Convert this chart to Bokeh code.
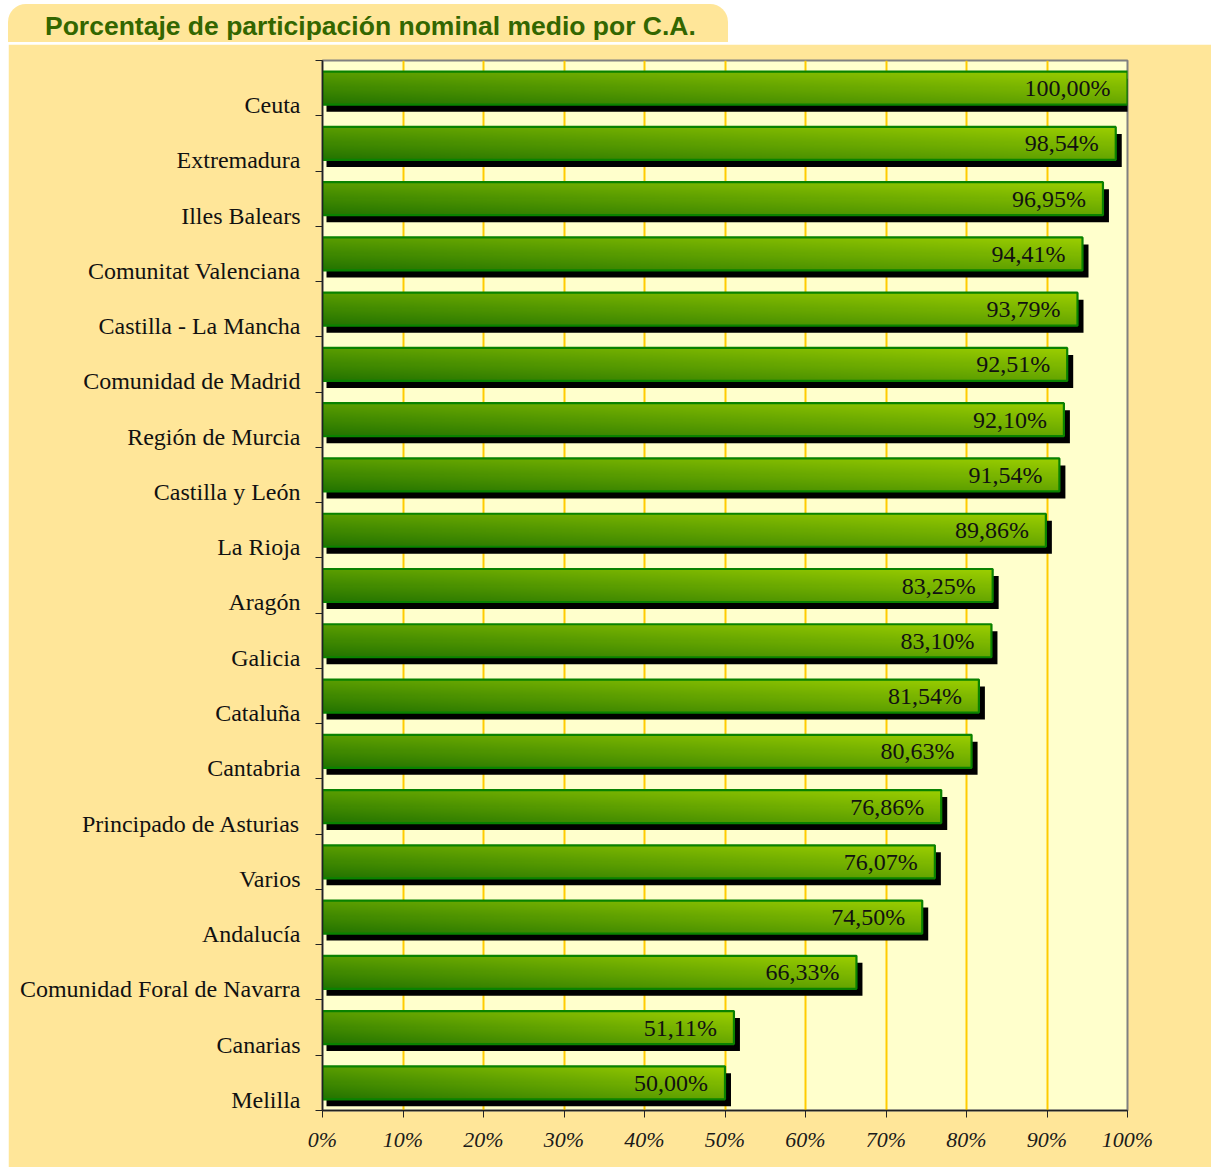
import numpy as np
from bokeh.plotting import figure
from bokeh.models import Div, FixedTicker, PrintfTickFormatter, Range1d, ColumnDataSource
from bokeh.layouts import column
from bokeh.core.properties import value
from bokeh.embed import file_html
from bokeh.resources import INLINE

# ---------------- data ----------------
title_text = "Porcentaje de participación nominal medio por C.A."
regions = ["Ceuta", "Extremadura", "Illes Balears", "Comunitat Valenciana",
           "Castilla - La Mancha", "Comunidad de Madrid", "Región de Murcia",
           "Castilla y León", "La Rioja", "Aragón", "Galicia", "Cataluña",
           "Cantabria", "Principado de Asturias", "Varios", "Andalucía",
           "Comunidad Foral de Navarra", "Canarias", "Melilla"]
values = [100.00, 98.54, 96.95, 94.41, 93.79, 92.51, 92.10, 91.54, 89.86,
          83.25, 83.10, 81.54, 80.63, 76.86, 76.07, 74.50, 66.33, 51.11, 50.00]
x_ticks = [0, 10, 20, 30, 40, 50, 60, 70, 80, 90, 100]

# ---------------- geometry / style ----------------
n = len(regions)
FRAME_W, FRAME_H = 805, 1050
px_x = 100.0 / FRAME_W          # data units per pixel (x)
px_y = n / FRAME_H              # data units per pixel (y)
bar_h = 33 * px_y
yc = [n - 1 - i + 0.5 for i in range(n)]
bottoms = [c - bar_h / 2 for c in yc]
tops = [c + bar_h / 2 for c in yc]
label_pos = [round(c - 17 * px_y, 4) for c in yc]   # category names sit low in the band

PANEL = "#FFE699"
PLOT_BG = "#FFFFCC"

# gradient image for bars
rows, cols = 32, 200
xf = np.linspace(0, 1, cols)[None, :]
yf = np.linspace(0, 1, rows)[:, None]      # row 0 = bottom
t = 0.55 * xf + 0.45 * yf
dark = np.array([36, 116, 0])
light = np.array([156, 207, 0])
img = np.empty((rows, cols), dtype=np.uint32)
view = img.view(dtype=np.uint8).reshape((rows, cols, 4))
for k in range(3):
    view[..., k] = (dark[k] + t * (light[k] - dark[k])).astype(np.uint8)
view[..., 3] = 255

p = figure(width=1203, height=1123, x_range=Range1d(0, 100), y_range=Range1d(0, n),
           output_backend="svg", toolbar_location=None,
           min_border_left=314, min_border_right=84, min_border_top=16, min_border_bottom=57,
           margin=(0, 0, 0, 8))
p.background_fill_color = PLOT_BG
p.border_fill_color = PANEL
p.outline_line_color = "#808080"
p.outline_line_width = 2

# grid
p.xgrid.ticker = FixedTicker(ticks=x_ticks[1:-1])
p.xgrid.grid_line_color = "#FFCC00"
p.xgrid.grid_line_width = 2
p.ygrid.grid_line_color = None

# x axis
p.xaxis.ticker = FixedTicker(ticks=x_ticks)
p.xaxis.formatter = PrintfTickFormatter(format="%d%%")
p.xaxis.major_label_text_font = "Liberation Serif"
p.xaxis.major_label_text_font_style = "italic"
p.xaxis.major_label_text_font_size = "22px"
p.xaxis.major_label_text_color = "#1a1a1a"
p.xaxis.major_label_standoff = 9
p.xaxis.axis_line_color = "#222222"
p.xaxis.axis_line_width = 1.5
p.xaxis.major_tick_line_color = "#222222"
p.xaxis.major_tick_out = 7
p.xaxis.major_tick_in = 0
p.xaxis.minor_tick_line_color = None

# y axis: labels (no tick marks) low in each band, tick marks at band boundaries
p.yaxis.ticker = FixedTicker(ticks=label_pos, minor_ticks=list(range(0, n + 1)))
p.yaxis.major_label_overrides = {label_pos[i]: regions[i] for i in range(n)}
p.yaxis.major_label_orientation = "horizontal"
p.yaxis.major_label_text_font = "Liberation Serif"
p.yaxis.major_label_text_font_size = "24px"
p.yaxis.major_label_text_color = "#111111"
p.yaxis.major_label_standoff = 15
p.yaxis.axis_line_color = "#222222"
p.yaxis.axis_line_width = 1.5
p.yaxis.major_tick_line_color = None
p.yaxis.major_tick_out = 7
p.yaxis.major_tick_in = 0
p.yaxis.minor_tick_line_color = "#222222"
p.yaxis.minor_tick_out = 7
p.yaxis.minor_tick_in = 0

src = ColumnDataSource(dict(
    region=regions, val=values, yc=yc, bottom=bottoms, top=tops,
    sh_left=[4 * px_x] * n,
    sh_right=[v + 6 * px_x for v in values],
    sh_bottom=[b - 7 * px_y for b in bottoms],
    sh_top=[tp - 7 * px_y for tp in tops],
    lab=[f"{v:.2f}".replace(".", ",") + "%" for v in values],
    zero=[0] * n,
    dh=[bar_h] * n,
    img=[img] * n,
))

# shadows
p.quad(left="sh_left", right="sh_right", bottom="sh_bottom", top="sh_top",
       source=src, fill_color="black", line_color=None)
# gradient bars
p.image_rgba(image="img", x="zero", y="bottom", dw="val", dh="dh", source=src)
# bar borders
p.quad(left="zero", right="val", bottom="bottom", top="top", source=src,
       fill_color=None, line_color="#0A8200", line_width=2.2)

# value labels
p.text(x="val", y="yc", text="lab", source=src, x_offset=-17,
       text_align="right", text_baseline="middle",
       text_font=value("Liberation Serif"), text_font_size="24px", text_color="#111111")

title = Div(
    text=f'<div style="font-family:\'Liberation Sans\',Arial,sans-serif;font-weight:bold;'
         f'font-size:26.5px;color:#336600;line-height:44px;padding-left:37px;white-space:nowrap;">'
         f'{title_text}</div>',
    width=720, height=38, margin=(4, 0, 0, 8),
    styles={"background-color": PANEL, "border-radius": "18px 18px 0 0", "overflow": "visible"},
)

layout = column(title, p, spacing=2)

open("out.html", "w").write(file_html(layout, INLINE))
